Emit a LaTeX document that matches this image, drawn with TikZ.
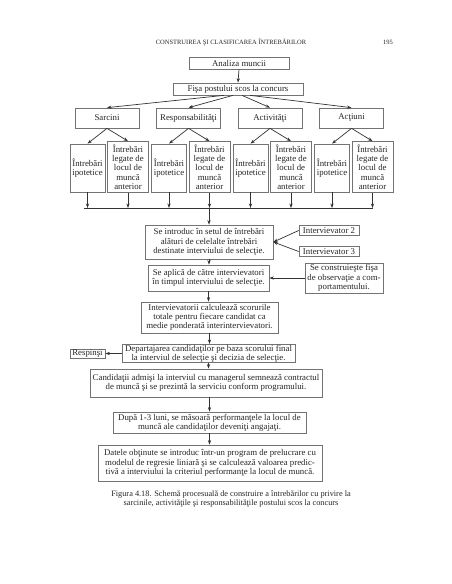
\documentclass[tikz,border=0pt]{standalone}
\usepackage{fontspec}
\setmainfont{Liberation Serif}
\usetikzlibrary{arrows.meta,calc}
\newcommand{\fs}{\fontsize{8.8}{9.3}\selectfont}
\tikzset{
  box/.style={draw=black!55, line width=0.7pt, fill=white, text=black!85, align=center, inner sep=0.5pt, font=\fs},
  arr/.style={-{Stealth[length=4.5pt,width=3.2pt]}, line width=0.7pt, draw=black!80},
  ln/.style={line width=0.7pt, draw=black!80}
}
\begin{document}
\begin{tikzpicture}[x=1pt,y=-1pt]
\useasboundingbox[fill=white] (0,0) rectangle (452,584);
% header
\node[text=black!85, font=\fontsize{6.5}{7}\selectfont] (hdr) at (231,42) {CONSTRUIREA ŞI CLASIFICAREA ÎNTREBĂRILOR};
\node[text=black!85, font=\fontsize{6.5}{7}\selectfont] (pg) at (388,42) {195};
% top
\node[box, minimum width=100, minimum height=12] (an) at (239,63) {Analiza muncii};
\node[box, minimum width=130, minimum height=12] (fisa) at (238,89) {Fişa postului scos la concurs};
% categories
\node[box, minimum width=64, minimum height=20] (c1) at (107,118) {Sarcini};
\node[box, minimum width=64, minimum height=20] (c2) at (188.5,118) {Responsabilităţi};
\node[box, minimum width=64, minimum height=20] (c3) at (270,118) {Activităţi};
\node[box, minimum width=64, minimum height=20] (c4) at (351.5,118) {Acţiuni};
% question boxes
\foreach \i/\xi/\xl in {1/87.5/128, 2/169/209.5, 3/250.5/291, 4/332/372.5}{
  \node[box, minimum width=35, minimum height=48] (ip\i) at (\xi,168) {Întrebări\\ipotetice};
  \node[box, minimum width=41, minimum height=51] (lg\i) at (\xl,167) {Întrebări\\legate de\\locul de\\muncă\\anterior};
  \draw[arr] (c\i.south) -- (ip\i.north);
  \draw[arr] (c\i.south) -- (lg\i.north);
}
\draw[arr] (an.south) -- (fisa.north);
\draw[arr] ($(fisa.south)+(-14,0)$) -- (c1.north);
\draw[arr] ($(fisa.south)+(-5,0)$) -- (c2.north);
\draw[arr] ($(fisa.south)+(4,0)$) -- (c3.north);
\draw[arr] ($(fisa.south)+(12,0)$) -- (c4.north);
% collector
\coordinate (cl) at (84,208);
\coordinate (cr) at (373,208);
\coordinate (cm) at (209,208);
\draw[ln] (cl) -- (cr);
\foreach \i in {1,2,3,4}{
  \draw[arr] (ip\i.south) -- (ip\i.south |- cl);
  \draw[arr] (lg\i.south) -- (lg\i.south |- cl);
}
% lower chain
\node[box, minimum width=128, minimum height=34] (intro) at (209,242) {Se introduc în setul de întrebări\\alături de celelalte întrebări\\destinate interviului de selecţie.};
\node[box, minimum width=60, minimum height=10] (iv2) at (329,230.5) {Intervievator 2};
\node[box, minimum width=60, minimum height=10] (iv3) at (329,251.5) {Intervievator 3};
\node[box, minimum width=121, minimum height=26] (apl) at (208.5,278) {Se aplică de către intervievatori\\în timpul interviului de selecţie.};
\node[box, minimum width=78, minimum height=30] (con) at (344,278) {Se construieşte fişa\\de observaţie a com-\\portamentului.};
\node[box, minimum width=137, minimum height=31] (calc) at (209.5,317.5) {Intervievatorii calculează scorurile\\totale pentru fiecare candidat ca\\medie ponderată interintervievatori.};
\node[box, minimum width=173, minimum height=18] (dep) at (208.5,353.5) {Departajarea candidaţilor pe baza scorului final\\la interviul de selecţie şi decizia de selecţie.};
\node[box, minimum width=35, minimum height=9] (resp) at (87.5,353.5) {Respinşi};
\node[box, minimum width=232, minimum height=28] (cand) at (206,383) {Candidaţii admişi la interviul cu managerul semnează contractul\\de muncă şi se prezintă la serviciu conform programului.};
\node[box, minimum width=193, minimum height=21] (dupa) at (209.5,422.5) {După 1-3 luni, se măsoară performanţele la locul de\\muncă ale candidaţilor deveniţi angajaţi.};
\node[box, minimum width=224, minimum height=36] (dat) at (210,463) {Datele obţinute se introduc într-un program de prelucrare cu\\modelul de regresie liniară şi se calculează valoarea predic-\\tivă a interviului la criteriul performanţe la locul de muncă.};
\draw[arr] (cm) -- (cm |- intro.north);
\draw[arr] (iv2.west) -- (intro.east);
\draw[arr] (iv3.west) -- (intro.east);
\draw[arr] (intro.south) -- (intro.south |- apl.north);
\draw[arr] (con.west) -- (apl.east);
\draw[arr] (apl.south) -- (apl.south |- calc.north);
\draw[arr] (calc.south) -- (calc.south |- dep.north);
\draw[arr] (dep.west) -- (resp.east);
\draw[arr] (dep.south) -- (dep.south |- cand.north);
\draw[arr] (cand.south -| dupa.north) -- (dupa.north);
\draw[arr] (dupa.south) -- (dupa.south |- dat.north);
% caption
\node[text=black!85, align=center, font=\fontsize{8.3}{8.8}\selectfont] (cap) at (231,499) {Figura 4.18. Schemă procesuală de construire a întrebărilor cu privire la\\sarcinile, activităţile şi responsabilităţile postului scos la concurs};
\end{tikzpicture}
\end{document}
